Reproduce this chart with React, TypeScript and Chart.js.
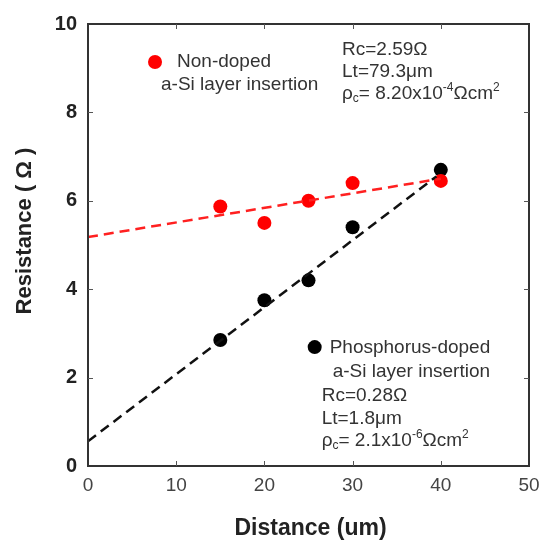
import React, { useEffect, useRef } from "react";
import { Chart, registerables } from "chart.js";
Chart.register(...registerables);

const distances = [15, 20, 25, 30, 40];
const nonDoped = [5.87, 5.5, 6.0, 6.4, 6.45];
const pDoped = [2.85, 3.75, 4.2, 5.4, 6.7];
const nonDopedFitX = [0, 40];
const nonDopedFitY = [5.18, 6.5];
const pDopedFitX = [0, 39.5];
const pDopedFitY = [0.56, 6.55];
const legendRed = { x: 7.6, y: 9.14 };
const legendBlack = { x: 25.7, y: 2.69 };
const xTicks = [0, 10, 20, 30, 40, 50];
const yTicks = [0, 2, 4, 6, 8, 10];

const FONT = "'Liberation Sans', Arial, sans-serif";

type Part = { t: string; size: number; dy?: number };

function drawRich(ctx: CanvasRenderingContext2D, x: number, y: number, parts: Part[]) {
  let cx = x;
  for (const p of parts) {
    ctx.font = `${p.size}px ${FONT}`;
    ctx.fillText(p.t, cx, y + (p.dy || 0));
    cx += ctx.measureText(p.t).width;
  }
}

const overlay = {
  id: "overlay",
  afterDraw(chart: any) {
    const ctx = chart.ctx as CanvasRenderingContext2D;
    const xs = chart.scales.x;
    const ys = chart.scales.y;
    const a = chart.chartArea;
    ctx.save();
    // frame
    ctx.strokeStyle = "#333";
    ctx.lineWidth = 2;
    ctx.strokeRect(a.left, a.top, a.right - a.left, a.bottom - a.top);
    // inward ticks
    ctx.lineWidth = 1;
    ctx.strokeStyle = "#555";
    ctx.beginPath();
    for (const v of xTicks.slice(1, -1)) {
      const px = Math.round(xs.getPixelForValue(v)) + 0.5;
      ctx.moveTo(px, a.bottom);
      ctx.lineTo(px, a.bottom - 5);
      ctx.moveTo(px, a.top);
      ctx.lineTo(px, a.top + 5);
    }
    for (const v of yTicks.slice(1, -1)) {
      const py = Math.round(ys.getPixelForValue(v)) + 0.5;
      ctx.moveTo(a.left, py);
      ctx.lineTo(a.left + 5, py);
      ctx.moveTo(a.right, py);
      ctx.lineTo(a.right - 5, py);
    }
    ctx.stroke();

    // texts
    ctx.fillStyle = "#333";
    ctx.textBaseline = "middle";
    ctx.textAlign = "left";
    const X = (v: number) => xs.getPixelForValue(v);
    const Y = (v: number) => ys.getPixelForValue(v);
    const S = 19;
    const s = 12;
    const rx = X(legendRed.x), ry = Y(legendRed.y);
    drawRich(ctx, rx + 22, ry, [{ t: "Non-doped", size: S }]);
    drawRich(ctx, rx + 6, ry + 23, [{ t: "a-Si layer insertion", size: S }]);
    drawRich(ctx, rx + 187, ry - 12, [{ t: "Rc=2.59Ω", size: S }]);
    drawRich(ctx, rx + 187, ry + 10, [{ t: "Lt=79.3μm", size: S }]);
    drawRich(ctx, rx + 187, ry + 32, [
      { t: "ρ", size: S },
      { t: "c", size: s, dy: 5 },
      { t: "= 8.20x10", size: S },
      { t: "-4", size: s, dy: -6 },
      { t: "Ωcm", size: S },
      { t: "2", size: s, dy: -6 },
    ]);
    const bx = X(legendBlack.x), by = Y(legendBlack.y);
    drawRich(ctx, bx + 15, by + 1, [{ t: "Phosphorus-doped", size: S }]);
    drawRich(ctx, bx + 18, by + 25, [{ t: "a-Si layer insertion", size: S }]);
    drawRich(ctx, bx + 7, by + 49, [{ t: "Rc=0.28Ω", size: S }]);
    drawRich(ctx, bx + 7, by + 72, [{ t: "Lt=1.8μm", size: S }]);
    drawRich(ctx, bx + 7, by + 94, [
      { t: "ρ", size: S },
      { t: "c", size: s, dy: 5 },
      { t: "= 2.1x10", size: S },
      { t: "-6", size: s, dy: -6 },
      { t: "Ωcm", size: S },
      { t: "2", size: s, dy: -6 },
    ]);

    // axis titles
    ctx.fillStyle = "#222";
    ctx.textAlign = "center";
    ctx.font = `bold 23px ${FONT}`;
    ctx.fillText("Distance (um)", (a.left + a.right) / 2 + 2, 529);
    ctx.save();
    ctx.font = `bold 22px ${FONT}`;
    ctx.translate(25, 231);
    ctx.rotate(-Math.PI / 2);
    ctx.fillText("Resistance ( Ω )", 0, 0);
    ctx.restore();
    ctx.restore();
  },
};

export default function App() {
  const ref = useRef<HTMLCanvasElement | null>(null);
  useEffect(() => {
    document.body.style.margin = "0";
    const c = ref.current!;
    const pts = (xs: number[], ys: number[]) => xs.map((x, i) => ({ x, y: ys[i] }));
    const chart = new Chart(c, {
      type: "scatter",
      data: {
        datasets: [
          {
            type: "line",
            data: pts(nonDopedFitX, nonDopedFitY),
            borderColor: "#ff2020",
            borderWidth: 2.5,
            borderDash: [10, 6],
            pointRadius: 0,
            showLine: true,
          } as any,
          {
            type: "line",
            data: pts(pDopedFitX, pDopedFitY),
            borderColor: "#111",
            borderWidth: 2.5,
            borderDash: [10, 6],
            pointRadius: 0,
            showLine: true,
          } as any,
          {
            data: [...pts(distances, nonDoped), legendRed],
            backgroundColor: "#ff0000",
            borderColor: "#ff0000",
            pointRadius: 7,
            borderWidth: 0,
          },
          {
            data: [...pts(distances, pDoped), legendBlack],
            backgroundColor: "#000",
            borderColor: "#000",
            pointRadius: 7,
            borderWidth: 0,
          },
        ],
      },
      options: {
        animation: false,
        responsive: false,
        layout: { padding: { top: 24, right: 18, left: 0, bottom: 0 } },
        plugins: { legend: { display: false }, tooltip: { enabled: false } },
        scales: {
          x: {
            type: "linear",
            min: 0,
            max: 50,
            ticks: {
              stepSize: 10,
              color: "#444",
              font: { family: FONT, size: 19 },
              padding: 0,
            },
            grid: { display: false },
            border: { display: false },
            afterFit: (sc: any) => {
              sc.height = 78;
            },
          },
          y: {
            type: "linear",
            min: 0,
            max: 10,
            ticks: {
              stepSize: 2,
              color: "#222",
              font: { family: FONT, size: 20, weight: "bold" },
              padding: 3,
            },
            grid: { display: false },
            border: { display: false },
            afterFit: (sc: any) => {
              sc.width = 88;
            },
          },
        },
      },
      plugins: [overlay],
    });
    return () => chart.destroy();
  }, []);
  return <canvas ref={ref} width={547} height={544} style={{ display: "block" }} />;
}
